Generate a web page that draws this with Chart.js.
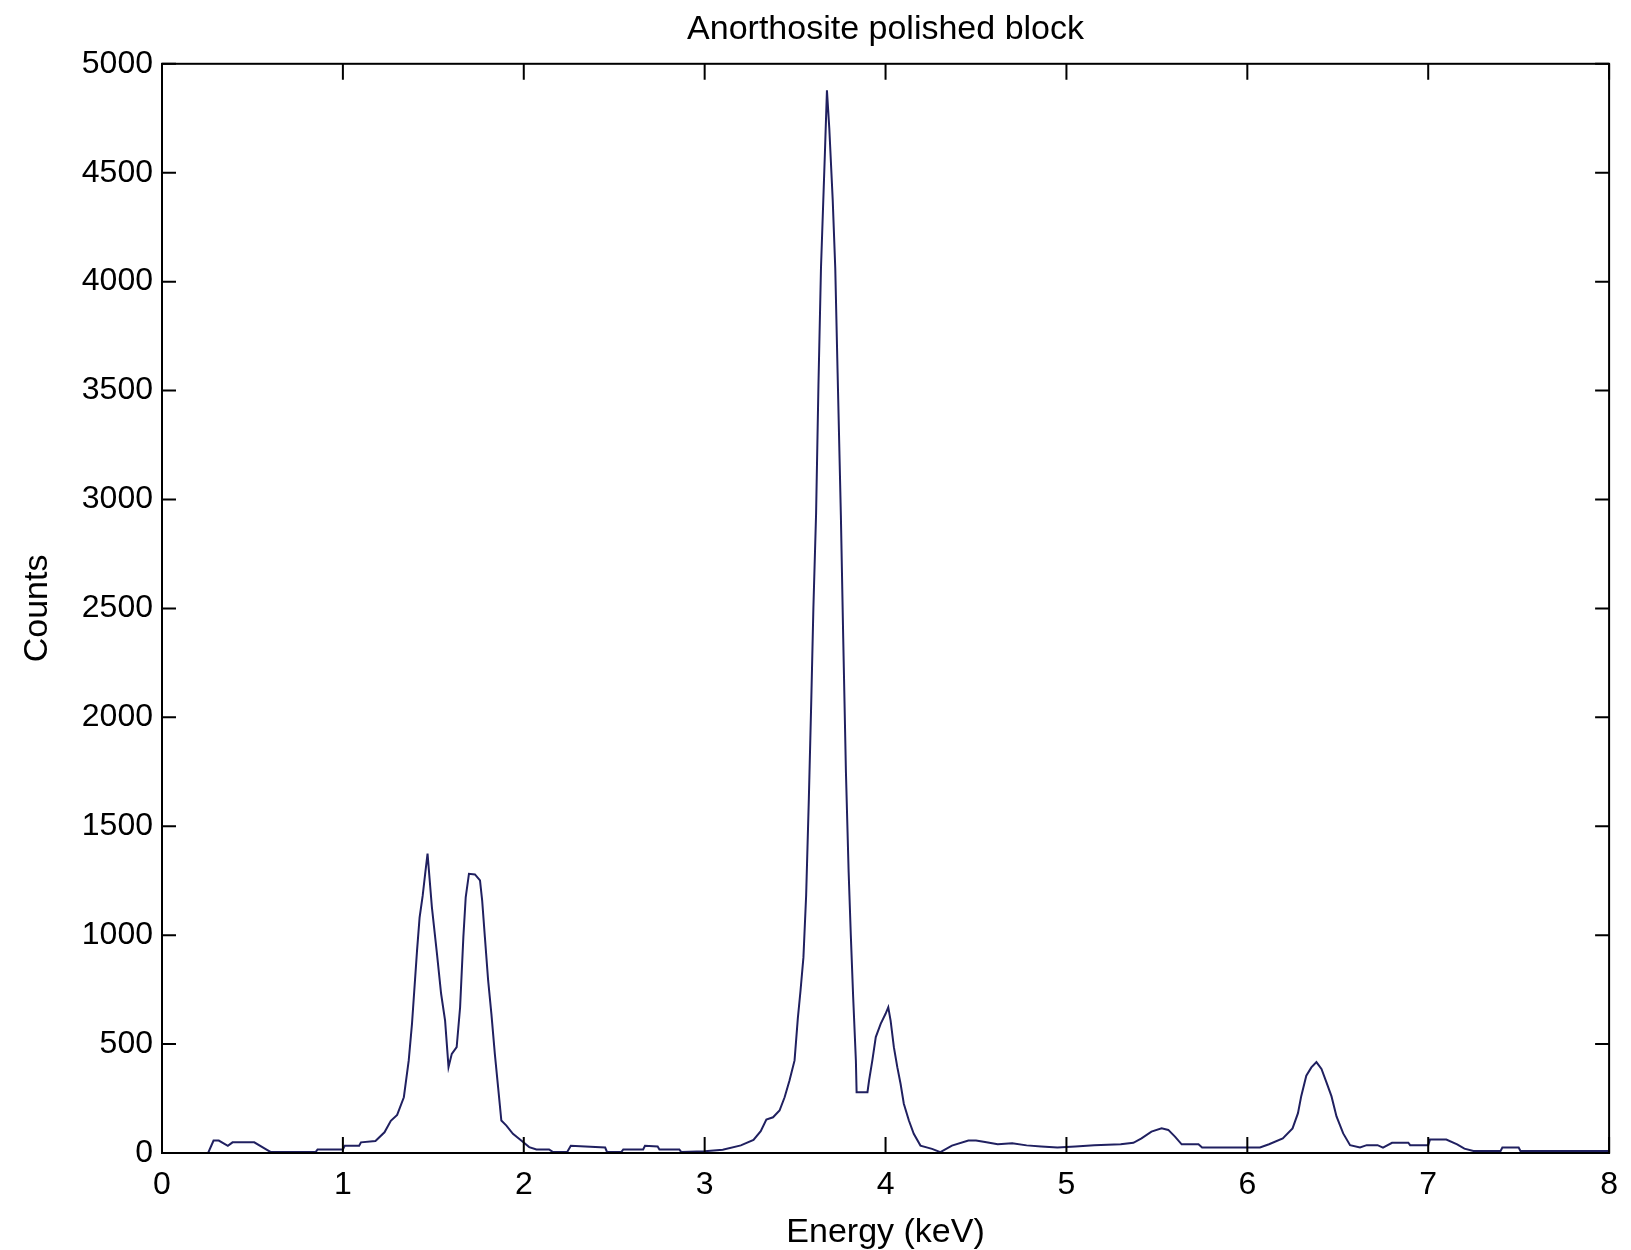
<!DOCTYPE html>
<html>
<head>
<meta charset="utf-8">
<title>Anorthosite polished block</title>
<script src="https://cdn.jsdelivr.net/npm/chart.js@4"></script>
<style>
  body { margin: 0; background: #fff; }
  #wrap { width: 1631px; height: 1250px; }
</style>
</head>
<body>
<div id="wrap"><canvas id="spectrum"></canvas></div>
<script>
// EDS spectrum
const energy = [
  0.20, 0.255, 0.285, 0.314, 0.364, 0.39, 0.51, 0.578, 0.60, 0.85,
  0.86, 1.00, 1.01, 1.09, 1.10, 1.18, 1.23, 1.265, 1.30, 1.337,
  1.364, 1.382, 1.41, 1.424, 1.441, 1.455, 1.468, 1.492, 1.52, 1.543,
  1.565, 1.584, 1.602, 1.629, 1.648, 1.666, 1.679, 1.697, 1.73, 1.758,
  1.77, 1.785, 1.803, 1.821, 1.84, 1.858, 1.876, 1.904, 1.94, 1.986,
  2.03, 2.07, 2.14, 2.16, 2.24, 2.26, 2.34, 2.45, 2.46, 2.54,
  2.55, 2.66, 2.67, 2.74, 2.75, 2.86, 2.87, 3.0, 3.1, 3.2,
  3.27, 3.31, 3.341, 3.378, 3.414, 3.442, 3.469, 3.497, 3.515, 3.53,
  3.546, 3.561, 3.576, 3.589, 3.601, 3.616, 3.629, 3.643, 3.665, 3.676,
  3.689, 3.708, 3.722, 3.735, 3.753, 3.766, 3.781, 3.796, 3.808, 3.821,
  3.836, 3.84, 3.90, 3.909, 3.927, 3.946, 3.973, 4.0, 4.015, 4.028,
  4.046, 4.065, 4.083, 4.101, 4.129, 4.156, 4.193, 4.257, 4.303, 4.367,
  4.458, 4.5, 4.55, 4.62, 4.7, 4.78, 4.86, 4.95, 5.05, 5.154,
  5.30, 5.37, 5.415, 5.47, 5.526, 5.563, 5.60, 5.637, 5.73, 5.75,
  6.07, 6.12, 6.196, 6.25, 6.28, 6.298, 6.326, 6.354, 6.382, 6.41,
  6.438, 6.465, 6.493, 6.53, 6.568, 6.623, 6.66, 6.72, 6.75, 6.80,
  6.89, 6.90, 7.0, 7.01, 7.10, 7.16, 7.20, 7.25, 7.40, 7.41,
  7.50, 7.51, 8.0
];
const counts = [
  0, 0, 57, 57, 33, 49, 49, 16, 5, 5,
  16, 16, 33, 33, 49, 55, 95, 148, 175, 256,
  425, 593, 930, 1080, 1180, 1282, 1374, 1129, 915, 731,
  608, 394, 455, 486, 669, 991, 1174, 1282, 1279, 1251,
  1159, 991, 792, 639, 455, 302, 149, 126, 88, 57,
  27, 16, 16, 5, 5, 33, 30, 25, 5, 5,
  16, 16, 33, 30, 16, 16, 5, 8, 15, 35,
  60, 100, 154, 164, 195, 256, 333, 425, 618, 746,
  898, 1182, 1628, 2064, 2500, 2936, 3524, 4061, 4596, 4878,
  4704, 4373, 4061, 3579, 2927, 2362, 1748, 1289, 999, 715,
  425, 279, 279, 333, 425, 532, 593, 639, 669, 608,
  486, 394, 318, 226, 149, 88, 34, 19, 4, 34,
  57, 57, 50, 40, 45, 35, 30, 25, 30, 36,
  40, 47, 67, 98, 113, 106, 75, 40, 40, 25,
  25, 40, 67, 113, 183, 261, 355, 393, 417, 386,
  323, 261, 168, 90, 36, 25, 36, 36, 25, 47,
  47, 36, 36, 62, 62, 40, 20, 9, 9, 25,
  25, 9, 9
];

const titleText = 'Anorthosite polished block';
const xLabel = 'Energy (keV)';
const yLabel = 'Counts';

const textFont = "'Liberation Sans', Arial, sans-serif";
const tickFont = "'Liberation Sans Narrow', 'Liberation Sans', Arial, sans-serif";

// matlab style box with ticks pointing inwards on all four sides
const boxTicks = {
  id: 'boxTicks',
  afterDraw(chart) {
    const { ctx, chartArea: a, scales: { x, y } } = chart;
    const len = 16;
    ctx.save();
    ctx.strokeStyle = '#000';
    ctx.lineWidth = 2;
    ctx.beginPath();
    x.ticks.forEach(t => {
      const px = x.getPixelForValue(t.value);
      ctx.moveTo(px, a.bottom); ctx.lineTo(px, a.bottom - len);
      ctx.moveTo(px, a.top); ctx.lineTo(px, a.top + len);
    });
    y.ticks.forEach(t => {
      const py = y.getPixelForValue(t.value);
      ctx.moveTo(a.left, py); ctx.lineTo(a.left + len - 2, py);
      ctx.moveTo(a.right, py); ctx.lineTo(a.right - len + 2, py);
    });
    ctx.stroke();
    ctx.strokeRect(a.left, a.top, a.right - a.left, a.bottom - a.top);
    ctx.restore();
  }
};

const points = energy.map((e, i) => ({ x: e, y: counts[i] }));

new Chart(document.getElementById('spectrum'), {
  type: 'line',
  data: {
    datasets: [{
      data: points,
      borderColor: '#202060',
      borderWidth: 2,
      pointRadius: 0,
      tension: 0,
      fill: false
    }]
  },
  options: {
    responsive: true,
    maintainAspectRatio: false,
    animation: false,
    layout: { padding: { left: 0, right: 13, top: 0, bottom: 0 } },
    plugins: {
      legend: { display: false },
      tooltip: { enabled: false },
      title: {
        display: true,
        fullSize: false,
        text: titleText,
        color: '#000',
        font: { family: textFont, size: 34, weight: 'normal' },
        padding: { top: 9, bottom: 14 }
      }
    },
    scales: {
      x: {
        type: 'linear',
        min: 0,
        max: 8,
        grid: { display: false, drawTicks: false },
        border: { display: false },
        ticks: {
          stepSize: 1,
          autoSkip: false,
          maxRotation: 0,
          padding: 13,
          color: '#000',
          font: { family: tickFont, size: 32 },
          callback: v => String(v)
        },
        title: {
          display: true,
          text: xLabel,
          color: '#000',
          font: { family: textFont, size: 34 },
          padding: { top: 0, bottom: -3 }
        },
        afterFit(s) { s.height = 97; }
      },
      y: {
        min: 0,
        max: 5000,
        grid: { display: false, drawTicks: false },
        border: { display: false },
        ticks: {
          stepSize: 500,
          padding: 9,
          color: '#000',
          font: { family: tickFont, size: 32 },
          callback: v => String(v)
        },
        title: {
          display: true,
          text: yLabel,
          color: '#000',
          font: { family: textFont, size: 34 },
          padding: { top: 17, bottom: 0 }
        },
        afterFit(s) { s.width = 162; }
      }
    }
  },
  plugins: [boxTicks]
});
</script>
</body>
</html>
